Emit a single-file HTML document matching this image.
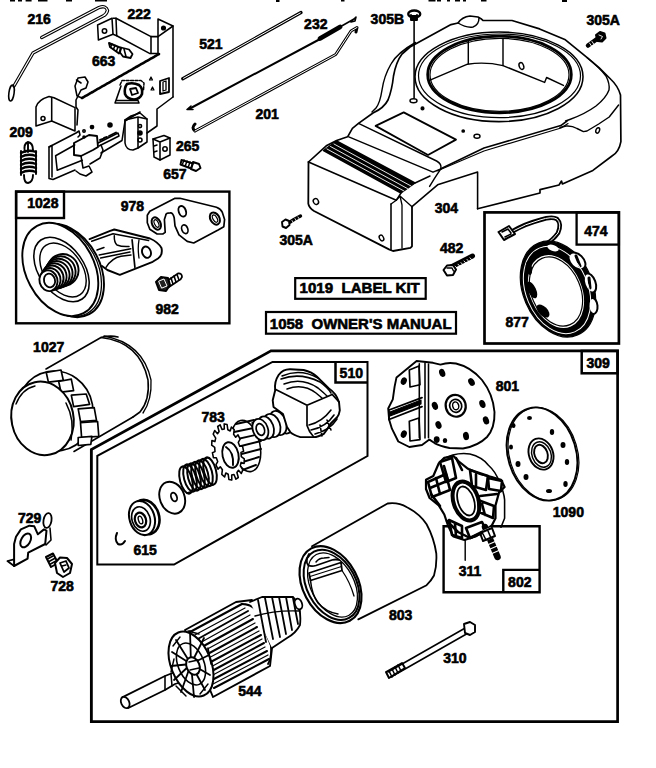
<!DOCTYPE html>
<html><head><meta charset="utf-8">
<style>
html,body{margin:0;padding:0;background:#fff;width:656px;height:768px;overflow:hidden}
svg{display:block}
text{font-family:"Liberation Sans",sans-serif;font-weight:bold;font-size:14px;fill:#000;stroke:#000;stroke-width:0.6px}
</style></head><body>
<svg width="656" height="768" viewBox="0 0 656 768">
<g fill="none" stroke="#000" stroke-width="1.55" stroke-linejoin="round" stroke-linecap="round">
<g id="boxes" stroke-width="2.6" stroke-linecap="butt" stroke-linejoin="miter">
<rect x="16.1" y="191.6" width="213.3" height="131.7" stroke-width="2.4"/>
<rect x="16.1" y="191.6" width="47.9" height="26.4" stroke-width="2.4"/>
<rect x="484.5" y="212.4" width="134.4" height="131.1" stroke-width="2.7"/>
<rect x="576.6" y="212.4" width="42.3" height="32.2" stroke-width="2.3"/>
<rect x="295.2" y="278.1" width="130.5" height="20.7" stroke-width="2.2"/>
<rect x="266" y="312" width="190" height="21.7" stroke-width="2.2"/>
<path d="M271 350.9 H617.6 V721.6 H91.3 V449.5 Z" stroke-width="2.7"/>
<path d="M91.3 449.5 L91.3 721.6" stroke-width="2.2"/>
<rect x="581.7" y="350.9" width="35.9" height="22.4" stroke-width="2.5"/>
<path d="M272.5 361.9 H367.5 V456 L174 564.5 H97.3 V455.8 Z" stroke-width="2"/>
<path d="M335.5 361.9 V382.5 H367.5" stroke-width="2.5"/>
<path d="M443.6 526.2 H539.6 V592.2 H443.6 Z" stroke-width="2.4"/>
<path d="M503.3 592.2 V569.9 H539.6" stroke-width="2.4"/>
</g>
<!-- top edge fragments -->
<g fill="#000" stroke="none">
<rect x="10" y="0" width="5" height="1.5"/><rect x="18" y="0" width="4" height="1.5"/><rect x="25.6" y="0" width="6" height="1.5"/>
<rect x="38" y="0" width="9.5" height="1.5"/><rect x="66" y="0" width="6" height="1.5"/><rect x="95" y="0" width="12" height="1.5"/>
<rect x="276" y="0" width="3.5" height="2"/><rect x="341" y="0" width="3.5" height="1.5"/>
<rect x="428.5" y="0" width="7" height="1.5"/><rect x="437" y="0" width="4" height="1.5"/><rect x="447" y="0" width="3" height="1.5"/>
<rect x="455" y="0" width="5" height="1.5"/><rect x="463" y="0" width="3" height="1.5"/><rect x="481" y="0" width="5.5" height="1.5"/><rect x="562" y="0" width="5" height="2"/>
</g>
<!-- ROD 216 -->
<g id="rod216">
<path d="M41.7,37.5 L99,7.5 Q106,5 107.5,10.5 Q106.5,14.5 103,16 L33,53 L14,86" stroke-width="3.4"/>
<path d="M41.7,37.5 L99,7.5 Q106,5 107.5,10.5 Q106.5,14.5 103,16 L33,53 L14,86" stroke="#fff" stroke-width="1.2"/>
<ellipse cx="11.5" cy="93" rx="2.6" ry="8" transform="rotate(8 11.5 93)" stroke-width="1.56"/>
</g>
<!-- BRACKET 222 -->
<g id="br222">
<path d="M97.6,25 L112,18.3 L113,34.3 L98.4,40 Z"/>
<circle cx="104.5" cy="31" r="2.2"/>
<path d="M113,18.3 L116,18.3 L151,36.6 L158,36.6 L158,53.4 L149.5,53.4 L116.7,35.8 L113,34.3"/>
<path d="M116,18.3 L116.7,35.8 M151,36.6 L151,53.4"/>
<path d="M158,36.6 L158,19 L173,26 L173,97"/>
<path d="M158,36.6 L173,26"/>
<circle cx="163.5" cy="28" r="1.8" fill="#000"/>
</g>
<!-- SCREW 663 -->
<g id="s663">
<path d="M109,43 L121,48 L119,53.5 L110,47 Z" stroke-width="1.92"/>
<path d="M112,44 l-1.5,3.5 M115,45.5 l-1.5,3.6 M118,47 l-1.5,4" />
<path d="M121,47.5 L129,49.5 L132.5,54 L130.5,58 L123,56.5 L120,52.5 Z" stroke-width="1.80"/>
<path d="M124,49 L126,56.5"/>
</g>
<!-- MAIN PLATE -->
<g id="plate">
<path d="M159,54 L82,98" stroke-width="2.6" stroke-dasharray="2 0.8"/>
<path d="M173,97 L157,109 L157,126 L147,133"/>
<path d="M82,98 L77,96 L75,86 L78,78 L85,77 L88,82 L86,88 L81,90 L79,94 M79,94 L76,100 L76,107 L78,110 L77,125"/>
<path d="M76.5,80 L81,83" />
<!-- small L bracket -->
<path d="M36,107 Q38,100 49,96.6 L54,97.8 L75,107.6 L75,131 L51.7,121 L36,126 Z"/>
<path d="M51.7,97.5 L51.7,121"/>
<circle cx="43" cy="118.5" r="2"/>
<!-- lower plate w/ slot -->
<path d="M49,147 L49,178.5 L53,179.5 L75,170 M49,147 L76,133 L79,131 L80,135 L78,137"/>
<path d="M49,147 L52,145.5 L52,177"/>
<path d="M55.6,155.7 L74.7,145 M57.2,170.2 L82.3,160.3 M55.6,155.7 L57.2,170.2"/>
<path d="M74,143 L89,135 L97,136 L98,147 L93,150 L81,156 L74,155 Z" stroke-width="1.92"/>
<path d="M81,156 L83,168 L89,166 L92,172 L86,176 L80,174 L76,171"/>
<path d="M90,164 L100,158 L103,150 L101,145"/>
<path d="M98,143 L118,133 L119,136 L99,146"/>
<path d="M100,140 L103,139 M104,138 L107,137 M109,136 L112,134.5 M113,134 L116,132.5" stroke-width="1.92"/>
<path d="M101,153 L122,140.5 L125,121 L135,115 L140,112"/>
<circle cx="92" cy="127" r="1.6" fill="#000"/>
<circle cx="84" cy="131" r="1.2"/>
<circle cx="110" cy="125" r="2" fill="#000"/>
<circle cx="84" cy="137" r="1" fill="#000"/>
<!-- carb-linkage piece -->
<path d="M120,85 L122,80.5 L141,80.5 L144,83 L143.5,90" stroke-width="1.5" stroke-dasharray="3 1.5"/>
<path d="M127,84 Q133,82 139,85 Q143,88 142,94 Q140,99 134,99.5 Q127,99 125,94 Q124,88 127,84 Z" stroke-width="2.6"/>
<path d="M130,89 L136,88 L138,93 L132,95 Z" stroke-width="1.8"/>
<path d="M121,86 L116,100.5 L138,100.5 L139,103 L115,103 Z" stroke-width="1.5"/>
<path d="M149.5,80 L151,77 L152.5,80 Z M151,90 L152.5,87 L154,90 Z" stroke-width="1.2"/>
<path d="M160,81 L169,78 L169,92 L160,94 Z" stroke-width="1.8"/>
<path d="M163,82 L166,81 L166,90 L163,91 Z" stroke-width="1.3"/>
</g>
<!-- small bracket w/ holes -->
<g id="br-holes">
<path d="M125,120 L125,143 Q126,150 133,150 L138,148 Q144,144 147,142 L147,119 L140,113 L131,116 Z"/>
<path d="M125,120 L138,117 L147,119 M138,117 L138,148"/>
<circle cx="140" cy="126" r="1.6"/>
<circle cx="140" cy="133" r="2" fill="#000"/>
<circle cx="140" cy="140" r="2"/>
</g>
<!-- 265 block -->
<g id="b265">
<path d="M153,139 L164,135.5 L170,138 L170,155 L160,160 L154,157 Z"/>
<path d="M153,139 L160,142 L170,138 M160,142 L160,160"/>
<circle cx="165" cy="149" r="2.2"/>
<path d="M154,146 L157,145 M154,152 L157,151"/>
</g>
<!-- screw 657 -->
<g id="s657">
<path d="M181.5,160 L193,163.5 L191,168.5 L180.5,164.5 Z" stroke-width="1.92"/>
<path d="M184,160 l-1.5,4 M187,161 l-1.5,4.3 M190,162 l-1.5,4.5" stroke-width="1.44"/>
<path d="M193,162 L199,164 L200.5,168 L196,171 L191,169 Z" stroke-width="1.92"/>
</g>
<!-- SPRING 209 -->
<g id="sp209">
<path d="M25,152 Q23,144 28,142 Q33,143 33,150 M28,142 L28,152" stroke-width="1.92"/>
<path d="M21,153 Q28,149 36,152 M21,157 Q28,153 36,156 M21,161 Q28,157 36,160 M21,165 Q28,161 36,164 M21,169 Q28,165 36,168 M21,173 Q28,169 36,172" stroke-width="2.4"/>
<path d="M21,151 L21,175 M36,151 L36,174" stroke-width="1.92"/>
<path d="M24,175 Q24,183 28,183 Q33,182 33,175" stroke-width="1.92"/>
</g>
<!-- RODS -->
<g id="rods">
<path d="M182.75,78.75 L301,12.5" stroke-width="3.2"/>
<path d="M183.5,78.3 L300.3,12.9" stroke="#fff" stroke-width="1"/>
<path d="M189,109 L322,38" stroke-width="2.00"/>
<path d="M187,109.5 L193,109.5 M187,109.5 L191,106" stroke-width="1.56"/>
<path d="M320,38.5 L340,27" stroke-width="4.8"/>
<path d="M339,27.5 L354,19 L356,17 L355,21 L351,22" stroke-width="1.56"/>
<path d="M195,131 Q191,128 195,124 M195,131 L335.7,54.5 L351,31 L357,27.5 L356,32" stroke-width="3"/>
<path d="M195,131 L335.7,54.5 L351,31 L357,27.5" stroke="#fff" stroke-width="1"/>
</g>
<!-- BLOWER HOUSING 304 -->
<g id="housing">
<!-- outer contour -->
<path d="M308.5,162 L326.8,145.4 L336.6,140.5 L347.6,136.8 L352.4,128.3 L358.5,123.4 L373,113 Q384,108 388,100 Q392,90 393.5,76 Q396,62 402,54 L410,47 L451,24.6 L458,23 Q462,17 470,16 L478,17 Q482,19 483,20.5 L512,20.5 L539.6,28.9 L565.4,39.8 L587.2,57.7 L599,67.6 L611,79.5 Q618,86 620.5,95 L620.9,141.6 Q619,152 612,156 L592.9,170.4 L562.4,183.9 L561.5,181 L559,185 L540,189.6 L540,193 L477.6,208.8" stroke-width="1.68"/>
<path d="M458,23 Q466,28 473,27 Q479,25 479,18" stroke-width="1.44"/>
<!-- inner left contour -->
<path d="M415.5,42.5 Q397,53 391,64 Q384,76 382,90 Q380,103 376,108 L372,112" stroke-width="1.44"/>
<!-- shroud rings -->
<ellipse cx="499" cy="76.8" rx="84" ry="44.8" stroke-width="1.56"/>
<ellipse cx="499.5" cy="75.8" rx="81" ry="41.8" stroke-width="1.20"/>
<ellipse cx="499.5" cy="74.5" rx="71.8" ry="38.3" stroke-width="2.8"/>
<ellipse cx="499.5" cy="74.8" rx="69.5" ry="36.5" stroke-width="1.20"/>
<!-- inside opening -->
<path d="M468.3,41.3 L468.3,63.4 M503,38.8 L503,65.6" stroke-width="1.44"/>
<path d="M430,80.2 L467.5,64.2 Q485,61.5 503,65.6 L544.6,82.4 L546.6,77.5 L563.4,85.4" stroke-width="1.44"/>
<ellipse cx="521.4" cy="66" rx="2.2" ry="3.5" transform="rotate(-20 521.4 66)" stroke-width="1.44"/>
<!-- 305B bolt -->
<ellipse cx="414.25" cy="14" rx="6" ry="3.5" stroke-width="2.4"/>
<path d="M411,15 L411,20 L417,20 L417,15" stroke-width="1.92" fill="#000"/>
<path d="M414.1,20 L414.1,98" stroke-width="1.56"/>
<ellipse cx="413.5" cy="100.8" rx="3.5" ry="2" stroke-width="1.44"/>
<circle cx="422.5" cy="108.4" r="1.3" fill="#000"/>
<!-- right inner contour -->
<path d="M587.2,57.7 Q600,68 606,76 Q610,84 609,90 Q606,98 596,106 Q585,114 570.4,119.2 L565.6,121" stroke-width="1.44"/>
<path d="M560,127.5 L566,126 Q572,125.5 577,128.5 L583.4,131.6 L587,131 L598.7,124 L609.2,117 L618.6,105" stroke-width="1.44"/>
<ellipse cx="597.7" cy="130.4" rx="1.8" ry="2.8" transform="rotate(20 597.7 130.4)" stroke-width="1.44"/>
<!-- long double edge -->
<path d="M440.8,168.8 L484,148 L560.8,125.6 L567,121" stroke-width="1.56"/>
<path d="M437,171 L484,151 L561,128 L568,123.5" stroke-width="1.20"/>
<path d="M440.8,168.8 Q434.5,178 429.6,186.4" stroke-width="1.44"/>
<ellipse cx="477" cy="136.2" rx="3" ry="2" stroke-width="1.44"/>
<circle cx="463.2" cy="131" r="1.1" fill="#000"/>
<!-- front part -->
<path d="M308.5,162 L308.3,203.7 Q309,208 314,211 L389,249.4 L393,251 L410.4,247.9 L412,246.3 L412,206.7" stroke-width="1.80"/>
<path d="M308.5,162 L396.3,200.2 M391,204 L391,249.4" stroke-width="1.56"/>
<path d="M391,204 L396.3,200.2 L400,196 L412,206.7 M400,196 L402,205 L402,248" stroke-width="1.32"/>
<path d="M412,206.7 L437.6,184.8 L477.6,172 L477.6,208.8" stroke-width="1.56"/>
<!-- grille band -->
<path d="M323.5,150.5 L336.5,141 L415,183 L401,193 Z" stroke-width="1.44" fill="#000"/>
<path d="M327,149 L404,191 M330.5,146.5 L407.5,188.6 M334,144 L411,186" stroke="#fff" stroke-width="0.9"/>
<path d="M415,183 L430,176 M401,193 L396.3,200.2" stroke-width="1.44"/>
<!-- step lines -->
<path d="M348.8,136.8 L433,172.2 L440.8,168.8" stroke-width="1.44"/>
<path d="M358.5,123.4 L436.6,161 Q442,164 440.8,168.8" stroke-width="1.44"/>
<!-- panel -->
<path d="M375.6,125.9 L403.7,112.4 L456,139.6 L428,155 Z" stroke-width="1.80"/>
<!-- holes -->
<ellipse cx="315.9" cy="201.5" rx="2.5" ry="3" transform="rotate(-30 315.9 201.5)" stroke-width="1.44"/>
<ellipse cx="381.5" cy="238" rx="2" ry="3" transform="rotate(-30 381.5 238)" stroke-width="1.44"/>
</g>
<!-- 305A bolts -->
<g id="b305a">
<path d="M588,45.5 L597,39" stroke-width="4.5"/>
<path d="M589.5,43 L591.5,46 M592,41.5 L594,44.5" stroke="#fff" stroke-width="0.9"/>
<path d="M596,35 L600,32 L604.5,33.5 L605.5,38 L602,41.5 L597.5,41 Z" stroke-width="2" fill="#000"/>
<path d="M599,35 L602.5,36.5 L601,39" stroke="#fff" stroke-width="0.9"/>
<path d="M287,224 L294,219.5 L300.5,216" stroke-width="3.4"/>
<path d="M289,222.5 L290.5,225 M292,220.5 L293.5,223 M295,218.6 L296.5,221 M298,217 L299.5,219.4" stroke="#fff" stroke-width="0.8"/>
<path d="M282,222 L285.5,219.5 L289,221 L289.5,225 L286,228 L282.5,226.5 Z" stroke-width="1.92" fill="#fff"/>
</g>
<!-- 482 bolt -->
<g id="b482">
<path d="M452,266.5 L472.5,256" stroke-width="5"/>
<path d="M455,266 L457,268 M458,264.2 L460,266.4 M461,262.6 L463,264.8 M464,261 L466,263.2 M467,259.4 L469,261.6 M470,257.8 L471.5,259.5" stroke="#fff" stroke-width="0.9"/>
<path d="M443.5,270 L447,265.5 L453,265 L456,269.5 L453,275 L447,275.5 Z" stroke-width="2.00" fill="#fff"/>
<path d="M447,268 L452,268 L453.5,271" stroke-width="1.44"/>
</g>
<!-- BOX 1028 CONTENT -->
<g id="pulley">
<!-- arm -->
<path d="M89.6,239.1 L110.2,230.9 L114.3,229.5 L150,238.5 Q158,242 161.5,248 Q163,255 158,258.5 L152.7,261.8 L119.8,274.8 L107.4,270 L102,265.9" stroke-width="1.9" fill="#fff"/>
<path d="M91.7,241.2 L113,233.7 L148.6,240.5" stroke-width="1.5"/>
<path d="M132.1,239.8 L134.9,267.3" stroke-width="1.7"/>
<path d="M114.3,235.7 Q114,242 117,245 Q122,247 129,246.5" stroke-width="1.5"/>
<path d="M97,250 L104,247.5 M99.2,254.9 L130.8,248.7 M100.6,258 L130,252 M106,267.3 Q112,258 121,256.3 L131,255" stroke-width="1.5"/>
<path d="M139,239.8 Q137.5,248 139,258" stroke-width="1.3"/>
<ellipse cx="146.5" cy="252.2" rx="4.3" ry="5.8" transform="rotate(-20 146.5 252.2)" stroke-width="1.9"/>
<!-- pulley rim back -->
<ellipse cx="66" cy="270.5" rx="49.5" ry="34" transform="rotate(62 66 270.5)" stroke-width="1.9" fill="#fff"/>
<ellipse cx="63.5" cy="270" rx="49.5" ry="34" transform="rotate(62 63.5 270)" stroke-width="1.3" fill="#fff"/>
<!-- pulley face -->
<ellipse cx="60.3" cy="269.5" rx="49.5" ry="34" transform="rotate(62 60.3 269.5)" stroke-width="1.9" fill="#fff"/>
<ellipse cx="61.5" cy="269.5" rx="36" ry="22.5" transform="rotate(55 61.5 269.5)" stroke-width="1.56"/>
<ellipse cx="63" cy="270" rx="30" ry="19" transform="rotate(55 63 270)" stroke-width="1.44"/>
<!-- hub threads -->
<g stroke-width="1.9" fill="#fff">
<ellipse cx="63.0" cy="270.0" rx="15.5" ry="16.0" transform="rotate(-15 63.0 270.0)"/>
<ellipse cx="60.9" cy="271.5" rx="14.6" ry="15.2" transform="rotate(-15 60.9 271.5)"/>
<ellipse cx="58.9" cy="273.1" rx="13.6" ry="14.4" transform="rotate(-15 58.9 273.1)"/>
<ellipse cx="56.8" cy="274.6" rx="12.7" ry="13.6" transform="rotate(-15 56.8 274.6)"/>
<ellipse cx="54.7" cy="276.1" rx="11.8" ry="12.9" transform="rotate(-15 54.7 276.1)"/>
<ellipse cx="52.6" cy="277.6" rx="10.9" ry="12.1" transform="rotate(-15 52.6 277.6)"/>
<ellipse cx="50.6" cy="279.2" rx="9.9" ry="11.3" transform="rotate(-15 50.6 279.2)"/>
<ellipse cx="48.5" cy="280.7" rx="9.0" ry="10.5" transform="rotate(-15 48.5 280.7)"/>
</g>
<ellipse cx="49.5" cy="280.5" rx="5.5" ry="6.9" transform="rotate(-15 49.5 280.5)" stroke-width="1.8"/>
</g>
<g id="plate978">
<path d="M147.3,215.3 L149.8,211.3 L175,198.3 L179.9,198.3 L216.5,207.2 Q221,209 222.2,212.1 L224.6,219.4 L223.8,226.7 L218.1,230 L193.7,243 L187.2,241.4 L179,234.9 L175,225.9 L174.2,217.8 Q173,212.5 170.1,212.9 Q166,213 166,214.5 L164.4,219.4 L165.2,232.4 L162.8,234 L157.1,234 L149.8,229.2 L147.3,222.7 Z" stroke-width="1.68"/>
<ellipse cx="156.3" cy="223.5" rx="4.2" ry="6.5" transform="rotate(-25 156.3 223.5)" stroke-width="2"/>
<ellipse cx="156.5" cy="223.5" rx="2" ry="4" transform="rotate(-25 156.5 223.5)" stroke-width="1.20"/>
<ellipse cx="182.3" cy="211.3" rx="3.6" ry="5.5" transform="rotate(-20 182.3 211.3)" stroke-width="1.92"/>
<ellipse cx="184.8" cy="229.2" rx="3" ry="4.5" transform="rotate(-20 184.8 229.2)" stroke-width="1.68"/>
<ellipse cx="214.9" cy="218.6" rx="4.5" ry="6.5" transform="rotate(-30 214.9 218.6)" stroke-width="2"/>
<ellipse cx="215" cy="218.6" rx="2" ry="4" transform="rotate(-30 215 218.6)" stroke-width="1.20"/>
</g>
<g id="bolt982">
<path d="M167,281 L178,273.5 Q182,273 182,277 Q181,280 178,281 L169,287" stroke-width="1.80" fill="#fff"/>
<path d="M171,278 L173,284 M174,276 L176,282 M177,274.5 L179,280" stroke-width="1.56"/>
<path d="M156,282 L161,277 L168,278 L170,285 L166,291 L159,290 Z" stroke-width="2" fill="#222"/>
<path d="M159,281 L164,279 L167,286 L162,288 Z" stroke="#fff" stroke-width="1"/>

</g>
<!-- STATOR 877 -->
<g id="stator">
<path d="M513,231 Q525,224 540,220 Q552,216 557,219 Q562,224 558,233 Q553,240 546,244" stroke-width="4.5"/>
<path d="M513,231 Q525,224 540,220 Q552,216 557,219 Q562,224 558,233 Q553,240 546,244" stroke="#fff" stroke-width="1"/>
<path d="M498.5,232 L509,226 L515,234 L504,240 Z" stroke-width="2.00" fill="#fff"/>
<path d="M502,232 L508,229 L511,233 M505,237 L511,234" stroke-width="1.56"/>
<ellipse cx="558" cy="289" rx="50" ry="35" transform="rotate(67 558 289)" fill="#000" stroke-width="1.20"/>
<g fill="#fff" stroke-width="2">
<ellipse cx="577" cy="261" rx="6.5" ry="10" transform="rotate(-45 577 261)"/>
<ellipse cx="590" cy="283" rx="5.5" ry="10" transform="rotate(-20 590 283)"/>
<ellipse cx="593" cy="306" rx="4.5" ry="8" transform="rotate(-5 593 306)"/>
<ellipse cx="553" cy="248" rx="7" ry="4" transform="rotate(20 553 248)"/>
</g>
<path d="M576,256 L580,266 M589,278 L590,288" stroke-width="3"/>
<ellipse cx="557" cy="290" rx="45.5" ry="31" transform="rotate(67 557 290)" stroke="#fff" stroke-width="1"/>
<ellipse cx="556" cy="291.5" rx="39" ry="26.8" transform="rotate(67 556 291.5)" fill="#fff" stroke-width="1.92"/>
<g fill="#000" stroke="none">
<ellipse cx="532" cy="290" rx="4" ry="9" transform="rotate(-25 532 290)"/>
<ellipse cx="543" cy="311" rx="4.5" ry="8" transform="rotate(-45 543 311)"/>
<ellipse cx="529" cy="268" rx="3" ry="7" transform="rotate(-10 529 268)"/>
</g>
<ellipse cx="556" cy="291.5" rx="36" ry="24.5" transform="rotate(67 556 291.5)" stroke-width="1.20"/>
</g>
<!-- OIL FILTER 1027 -->
<g id="filter">
<path d="M46,369 L101,337.5 Q110,335 118,337" stroke-width="1.56"/>
<path d="M101,337.5 Q140,342 148,380 Q150,400 140,412 L133,417" stroke-width="1.56"/>
<path d="M104,336 Q143,343 151,380 Q152,400 143,413" stroke-width="1.32"/>
<path d="M74,451.5 L133,417" stroke-width="1.56"/>
<!-- grip ring -->
<ellipse cx="55" cy="411" rx="38" ry="40" transform="rotate(-10 55 411)" stroke-width="1.68" fill="#fff"/>
<g stroke-width="1.68" fill="#fff">
<path d="M46.2,372.3 L61,370 L63.3,380.3 L48.4,382.1 Z"/>
<path d="M58.7,381.5 L71.3,379.2 L73.6,390.6 L61,392.2 Z"/>
<path d="M71.3,395.2 L86.2,394 L89.6,404.3 L73.6,406.6 Z"/>
<path d="M78.2,408.9 L94.2,407.7 L96.5,420.3 L80.5,421.5 Z"/>
<path d="M80.5,422.6 L97.6,421.5 L98.8,436.3 L81.6,437.5 Z"/>
<path d="M78.2,437.5 L91.9,436.3 L90.8,444.3 L78.2,445.5 Z"/>
</g>
<!-- front cap -->
<ellipse cx="42.5" cy="418.4" rx="31" ry="37" transform="rotate(-12 42.5 418.4)" stroke-width="2.00" fill="#fff"/>
<path d="M16,404 Q22,389 35,386" stroke-width="1.44"/>
<path d="M66,403 Q75,420 71,440" stroke-width="1.56"/>
</g>
<!-- BRACKET 729 -->
<g id="br729">
<path d="M16,536.7 L20.9,529.4 L29.4,525.7 L34.3,526.3 L37.9,534.3 L44,529.4 L46.5,530.6 L45.2,544 L28.2,552.6 L27.6,558.7 L14.1,566 L14.1,544 Z" stroke-width="2.00"/>
<path d="M14.1,559.3 L7.4,561 L14.1,566" stroke-width="1.80"/>
<ellipse cx="25.7" cy="540.4" rx="4.5" ry="7.5" transform="rotate(30 25.7 540.4)" stroke-width="2.00"/>
<ellipse cx="47.5" cy="520.5" rx="4" ry="7.5" transform="rotate(10 47.5 520.5)" stroke-width="1.80"/>
<path d="M50,528 L51,540 L46,545" stroke-width="1.56"/>
</g>
<!-- BOLT 728 -->
<g id="bolt728">
<path d="M46,557 L53,553.5 L58,563 L51,567 Z" stroke-width="2.00" fill="#fff"/>
<path d="M47.5,559 L53,556 M49,561.5 L54.5,558.5 M50.5,564 L56,561" stroke-width="1.56"/>
<path d="M55,563 L60,557.5 L67,558 L72,564 L70,573 L63,577 L57,573 Z" stroke-width="2" fill="#fff"/>
<path d="M60,563 L66,561 L69,568 L64,572 Z" stroke-width="1.80"/>
<path d="M62,566 L66,565" stroke-width="1.44"/>
</g>
<!-- STARTER DRIVE PARTS (box 510) -->
<g id="drive">
<!-- c-clip -->
<path d="M117,533 Q114,540 118,544 Q122,546 125,541" stroke-width="2"/>
<!-- collar 615 -->
<ellipse cx="146" cy="517" rx="13" ry="17.5" transform="rotate(-18 146 517)" stroke-width="2.6" fill="#fff"/>
<ellipse cx="142" cy="518" rx="12.5" ry="17.5" transform="rotate(-18 142 518)" stroke-width="2.00" fill="#fff"/>
<ellipse cx="141" cy="519" rx="9" ry="12.5" transform="rotate(-18 141 519)" stroke-width="1.68"/>
<ellipse cx="140.5" cy="520" rx="5.5" ry="7.5" transform="rotate(-18 140.5 520)" stroke-width="2.2"/>
<ellipse cx="140.5" cy="520" rx="2" ry="4" transform="rotate(-18 140.5 520)" stroke-width="1.44"/>
<!-- washer -->
<ellipse cx="172.2" cy="497.7" rx="12.3" ry="16.5" transform="rotate(-22 172.2 497.7)" stroke-width="1.92" fill="#fff"/>
<ellipse cx="174" cy="497" rx="2.8" ry="4.5" transform="rotate(-22 174 497)" stroke-width="1.80"/>
<!-- spring -->
<g stroke-width="2.00">
<ellipse cx="186" cy="480" rx="6" ry="14" transform="rotate(-15 186 480)"/>
<ellipse cx="190" cy="478" rx="6" ry="14" transform="rotate(-15 190 478)"/>
<ellipse cx="194" cy="477" rx="6" ry="14" transform="rotate(-15 194 477)"/>
<ellipse cx="198" cy="475.5" rx="6" ry="14" transform="rotate(-15 198 475.5)"/>
<ellipse cx="202" cy="474" rx="6" ry="14" transform="rotate(-15 202 474)"/>
<ellipse cx="206" cy="472.5" rx="6" ry="14" transform="rotate(-15 206 472.5)"/>
<ellipse cx="210" cy="471" rx="6" ry="14" transform="rotate(-15 210 471)"/>
</g>
<path d="M183,467 L207,458 M187,493 L213,485" stroke-width="1.56"/>
<!-- gear 783 back -->
<ellipse cx="246" cy="446" rx="14" ry="26" transform="rotate(-12 246 446)" stroke-width="1.56" fill="#fff"/>
<path d="M236,424 L254,420 M234,432 L258,427 M233,440 L260,434 M233,448 L261,441 M234,456 L261,449 M236,464 L259,457 M240,471 L256,465" stroke-width="1.92"/>
<!-- gear front -->
<path id="gear" d="M242.6,446.3 L243.6,451.3 L241.0,452.4 L241.3,456.6 L244.3,458.8 L244.1,463.5 L241.1,462.4 L240.3,465.9 L242.8,469.9 L241.3,473.5 L238.5,470.3 L236.9,472.5 L238.3,477.5 L235.9,479.2 L234.0,474.5 L231.7,475.0 L231.8,480.1 L228.9,479.5 L228.2,474.3 L225.8,473.0 L224.6,477.0 L221.8,474.4 L222.4,469.7 L220.3,466.8 L218.0,469.1 L215.9,464.8 L217.7,461.6 L216.3,457.7 L213.4,457.7 L212.4,452.7 L215.0,451.6 L214.7,447.4 L211.7,445.2 L211.9,440.5 L214.9,441.6 L215.7,438.1 L213.2,434.1 L214.7,430.5 L217.5,433.7 L219.1,431.5 L217.7,426.5 L220.1,424.8 L222.0,429.5 L224.3,429.0 L224.2,423.9 L227.1,424.5 L227.8,429.7 L230.2,431.0 L231.4,427.0 L234.2,429.6 L233.6,434.3 L235.7,437.2 L238.0,434.9 L240.1,439.2 L238.3,442.4 L239.7,446.3 Z" stroke-width="1.56" fill="#fff"/>
<ellipse cx="230.5" cy="455" rx="8" ry="13" transform="rotate(-12 230.5 455)" stroke-width="1.92"/>
<path d="M226,447 Q234,452 233,465" stroke-width="1.92"/>
<!-- helix shaft -->
<path d="M252,423 L285,410 M260,440 L292,428" stroke-width="1.56"/>
<g stroke-width="1.80" fill="#fff">
<ellipse cx="290" cy="418" rx="8" ry="14" transform="rotate(-20 290 418)"/>
<ellipse cx="284" cy="421" rx="8" ry="13" transform="rotate(-20 284 421)"/>
<ellipse cx="278" cy="423" rx="8" ry="12.5" transform="rotate(-20 278 423)"/>
<ellipse cx="272" cy="425.5" rx="8" ry="12" transform="rotate(-20 272 425.5)"/>
<ellipse cx="266" cy="427.5" rx="7.5" ry="11.5" transform="rotate(-20 266 427.5)"/>
<ellipse cx="260.4" cy="429.5" rx="7.5" ry="11" transform="rotate(-20 260.4 429.5)"/>
</g>
<ellipse cx="260.4" cy="429.5" rx="4" ry="6" transform="rotate(-20 260.4 429.5)" stroke-width="1.68"/>
<!-- clutch housing -->
<path d="M278.6,375 Q283,369 290.3,369.2 L303.7,370 Q312,372 317,376.8 L328.9,388.5 Q336,393 339,402 L339.8,410.3 Q339,415 337.3,417 L330.5,423.7 Q327,430 323.8,433.8 Q318,437 313.8,437.1 L300.4,437.1 Q293,435 290.3,432.1 L287,427 L283,414 L273.5,407 L272.7,400.2 L275.2,390.2 Q274,382 278.6,375 Z" stroke-width="1.92" fill="#fff"/>
<path d="M275.2,389.3 L307,405.3 L332.2,394.4 M307,405.3 L307,425.4 Q309,432 313.8,437 M332.2,394.4 L339,402" stroke-width="1.68"/>
<path d="M281,379 Q300,372 320,382 Q328,388 331,393 M284,384 Q302,377 318,388 Q324,393 327,396 M287,389 Q303,383 316,393 L322,398 M282,376 Q300,368 318,378" stroke-width="1.56"/>

<path d="M311,430 Q326,427 334,415 M315,434 Q330,430 337,419 M309,425 Q322,422 331,410 M320,425 L322,436 M327,420 L331,430" stroke-width="1.56"/>
</g>
<!-- 801 END PLATE -->
<g id="p801">
<path d="M396.5,377.4 L416.6,361 L433,362.8 L440.4,364.6 Q448,362 456,363.5 Q471,367 482,380 Q493,394 494.5,412 Q495,428 487,437 Q478,446 463,448.5 L449.5,448 Q440,446 434.9,443.3 L429.4,439.6 L422,445 L409.3,447 L398.3,441.5 L391.9,428.7 L389.1,419.5 L388.2,408.5 L392.8,399.4 L394.6,386.6 Z" stroke-width="1.90" fill="#fff"/>
<path d="M419.3,363.7 L419.3,437.8 M425,363 L425,438 M428.5,364 L428.5,437.8" stroke-width="1.56"/>
<path d="M389,410 L422,397.6 M389,419.5 L422,406.7 M389,410 L389,419.5" stroke-width="1.80"/>
<path d="M390,412 L421,400 L421,404 L390,416 Z" fill="#000" stroke-width="1.20"/>
<path d="M409.3,370 L419,366 L420,384.8 L410,387 Z M409.3,421.3 L419,418 L420,439.6 L410,441 Z" stroke-width="1.68"/>
<g stroke-width="1.92" fill="#000">
<ellipse cx="403.8" cy="381.1" rx="2" ry="3" transform="rotate(20 403.8 381.1)"/>
<ellipse cx="403.8" cy="434.1" rx="2" ry="3" transform="rotate(20 403.8 434.1)"/>
<ellipse cx="442.2" cy="372.9" rx="2" ry="3.2" transform="rotate(-20 442.2 372.9)"/>
<ellipse cx="471.5" cy="382" rx="2" ry="3.2" transform="rotate(-30 471.5 382)"/>
<ellipse cx="482.4" cy="404" rx="2" ry="3.2" transform="rotate(-20 482.4 404)"/>
<ellipse cx="486" cy="420.4" rx="2" ry="3.2" transform="rotate(-20 486 420.4)"/>
<ellipse cx="466" cy="436" rx="2" ry="3.2" transform="rotate(-10 466 436)"/>
<ellipse cx="434.9" cy="405.8" rx="2" ry="3.2" transform="rotate(-20 434.9 405.8)"/>
<ellipse cx="438.5" cy="425" rx="2" ry="3" transform="rotate(-20 438.5 425)"/>
<ellipse cx="436.7" cy="439.6" rx="2" ry="2.5"/>
<ellipse cx="445" cy="440.5" rx="1.3" ry="1.6"/>
</g>
<ellipse cx="455.7" cy="405.8" rx="10" ry="11" transform="rotate(-15 455.7 405.8)" stroke-width="2.2"/>
<ellipse cx="455.7" cy="405.8" rx="6" ry="6.5" transform="rotate(-15 455.7 405.8)" stroke-width="1.68"/>
<ellipse cx="455.7" cy="405.8" rx="3" ry="4" transform="rotate(-15 455.7 405.8)" stroke-width="1.44"/>
</g>
<!-- 1090 DISC -->
<g id="d1090">
<ellipse cx="542" cy="454" rx="34" ry="47.5" transform="rotate(-17 542 454)" stroke-width="1.92"/>
<ellipse cx="543.5" cy="454" rx="34" ry="47.5" transform="rotate(-17 543.5 454)" stroke-width="1.20"/>
<ellipse cx="541" cy="454" rx="12" ry="16" transform="rotate(-20 541 454)" stroke-width="1.92"/>
<ellipse cx="541.5" cy="454.5" rx="9.5" ry="13" transform="rotate(-20 541.5 454.5)" stroke-width="1.44"/>
<ellipse cx="541" cy="454" rx="6.5" ry="9.5" transform="rotate(-20 541 454)" stroke-width="1.92"/>
<g fill="#000" stroke="none">
<ellipse cx="529.5" cy="418" rx="2.5" ry="2"/>
<ellipse cx="513.5" cy="425.5" rx="2" ry="2.5"/>
<ellipse cx="552" cy="432" rx="2.2" ry="3"/>
<ellipse cx="563" cy="445" rx="2.5" ry="3"/>
<ellipse cx="567" cy="462" rx="2.2" ry="3"/>
<ellipse cx="565.5" cy="484" rx="2.2" ry="3"/>
<ellipse cx="549" cy="491" rx="3" ry="2"/>
<ellipse cx="526" cy="477" rx="2.5" ry="3"/>
<ellipse cx="518" cy="464" rx="2.5" ry="3"/>
<ellipse cx="511" cy="447" rx="2" ry="2.5"/>
</g>
</g>
<!-- 311 BRUSH HOLDER -->
<g id="bh311">
<path d="M442.4,459.6 Q455,452 469.9,454 Q482,457 488.2,465 Q496,472 499.1,481.6 Q504,492 504.6,499.9 L504.6,518.2 L501,527.3" stroke-width="1.56"/>
<path d="M426,479.8 L433.3,476 L438.8,463.3 L444.3,457.8 L453.4,456 L458.9,461.5 L468,468.8 L480.8,474.3 L491.8,477 L501,479.8 L504.6,487 L499,492.6 L495.5,505.4 L495.5,518.2 L491.8,525.5 L484.5,531 L475.4,536.5 L464.4,540 L453.4,536.5 L448,525.5 L444.3,514.5 L438.8,505.4 L429.6,498 L426,489 Z" stroke-width="2.2" fill="#fff"/>
<ellipse cx="466" cy="501" rx="12.5" ry="20" transform="rotate(-18 466 501)" stroke-width="4"/>
<ellipse cx="466" cy="501" rx="8" ry="15" transform="rotate(-18 466 501)" stroke-width="1.80"/>
<g stroke-width="2.6">
<path d="M428,482 L446,474 L450,490 L432,497 Z"/>
<path d="M430,488 L447,481 M436,478 L440,494"/>
<path d="M440,462 L452,458 L456,478 L446,482 Z M444,466 L448,480"/>
<path d="M470,470 L488,476 L486,490 L472,486 Z M476,474 L476,486"/>
<path d="M488,478 L502,481 L501,491 L489,489 Z"/>
<path d="M478,500 L494,506 L493,518 L479,512 Z M482,504 L485,515"/>
<path d="M449,520 L462,526 L462,538 L452,535 Z M455,524 L456,536"/>
<path d="M466,528 L482,522 L486,530 L470,538 Z"/>
<path d="M431,494 L440,506 M456,458 L462,470 M497,494 L480,496"/>
</g>
<path d="M485,527 L497.5,557" stroke-width="6.5"/>
<path d="M483,531 L491,527.5 M484.8,535.5 L492.8,532 M486.6,540 L494.6,536.5 M488.4,544.5 L496.4,541 M490.2,549 L498.2,545.5 M492,553.5 L500,550" stroke="#fff" stroke-width="1.1"/>
<path d="M480,533 L492,528 L495,536 L483,541 Z" stroke-width="2" fill="#fff"/>
<path d="M483,534 L486,540 M488,531 L491,538" stroke-width="1.56"/>
<path d="M447,521 L458,532 L470,538 L482,533" stroke-width="2.5"/>
<path d="M465.2,540 L465.2,560.3" stroke-width="1.44"/>
</g>
<!-- 803 MOTOR HOUSING -->
<g id="h803">
<path d="M312,546.2 L387.6,503.5 Q398,502 407,507.2 Q420,514 426.6,524.3 Q434,538 436.3,553.5 Q437,566 434,575.5 Q431,581 426.6,585.2 L358.3,619.4" stroke-width="1.8" fill="#fff"/>
<ellipse cx="330.5" cy="584.6" rx="41" ry="27.5" transform="rotate(62 330.5 584.6)" stroke-width="2.2" fill="#fff"/>
<ellipse cx="331.5" cy="584.8" rx="37.5" ry="24.5" transform="rotate(62 331.5 584.8)" stroke-width="2"/>
<ellipse cx="332.5" cy="585" rx="34.5" ry="21.5" transform="rotate(62 332.5 585)" stroke-width="1.3"/>
<path d="M309,554 Q305,561 308,565 Q311,567 316,565.5 L332,560 Q336,559 339,560" stroke-width="1.8"/>
<path d="M316,562 Q319,558 324,558 L329,557.5" stroke-width="1.5"/>
<path d="M309,573 L341,562.5 L342,570.5 L310.5,580.5 Z" stroke-width="1.8" fill="#fff"/>
<path d="M310,576.5 L341.5,566.5" stroke-width="1.2"/>
<path d="M310.5,580.5 Q312,595 318,603 Q326,612 338,614" stroke-width="1.5"/>
<path d="M342,570.5 Q350,582 354,596" stroke-width="1.3"/>
</g>
<!-- 544 ARMATURE -->
<g id="a544">
<!-- shaft -->
<path d="M122.2,697.4 L165,676 L175,672 L192,665 M128.3,708 L165,690 L175,684 L195,678" stroke-width="1.80"/>
<path d="M165,676 L165,690 M171,674 L172,686" stroke-width="1.56"/>
<ellipse cx="125.2" cy="702.5" rx="4" ry="6" transform="rotate(-25 125.2 702.5)" stroke-width="1.80" fill="#fff"/>
<!-- core body -->
<path d="M185,630 L236,602 L252,600 L272,648 L270,666 L213,697 Z" stroke-width="1.92" fill="#fff"/>
<g stroke-width="2.00">
<path d="M190,632 L242,604"/><path d="M196,640 L248,611"/><path d="M200,648 L253,619"/>
<path d="M204,656 L257,627"/><path d="M207,664 L261,635"/><path d="M210,672 L264,643"/>
<path d="M212,680 L267,651"/><path d="M214,688 L269,659"/>
</g>
<g stroke-width="1.20">
<path d="M193,636 L245,608"/><path d="M198,644 L250,615"/><path d="M202,652 L255,623"/>
<path d="M205,660 L259,631"/><path d="M209,668 L262,639"/><path d="M211,676 L265,647"/><path d="M213,684 L268,655"/>
</g>
<path d="M242,604 Q262,604 270,640 Q273,655 268,664" stroke-width="1.80"/>
<!-- front windings face -->
<ellipse cx="191" cy="664" rx="20" ry="34" transform="rotate(-22 191 664)" stroke-width="2" fill="#fff"/>
<g stroke-width="1.80">
<path d="M191,664 L176,640 M191,664 L172,652 M191,664 L171,666 M191,664 L174,680 M191,664 L181,692 M191,664 L194,697 M191,664 L205,690 M191,664 L210,675 M191,664 L209,655 M191,664 L204,638 M191,664 L190,631"/>
</g>
<g stroke-width="1.44">
<path d="M180,637 L173,646 M174,659 L171,672 M176,686 L186,696 M200,694 L208,684 M211,664 L208,648 M199,634 L188,631"/>
</g>
<ellipse cx="191" cy="664" rx="13" ry="22" transform="rotate(-22 191 664)" stroke-width="1.56"/>
<ellipse cx="193" cy="666" rx="6.5" ry="9" transform="rotate(-22 193 666)" stroke-width="2.00" fill="#fff"/>
<path d="M189,662 L198,660 M190,670 L199,668" stroke-width="1.44"/>
<!-- commutator -->
<path d="M250,602 L262,597 L293,597 Q302,606 300,625 Q296,633 287,638 L272,648" stroke-width="1.80" fill="#fff"/>
<path d="M258,600 L266,642 M265,598 L273,639 M272,597 L280,637 M279,597 L286,634 M286,597 L292,630 M293,598 L298,624" stroke-width="1.80"/>
<path d="M255,616 Q275,610 300,611" stroke-width="1.44"/>
<ellipse cx="298.5" cy="604" rx="3.5" ry="5.5" transform="rotate(-20 298.5 604)" stroke-width="1.80" fill="#fff"/>
</g>
<!-- 310 BOLT -->
<g id="b310">
<path d="M388,672 L467,627 M391,677 L470,632" stroke-width="1.56"/>
<path d="M386,672 L402,663 L405,668 L389,678 Z" stroke-width="2"/>
<path d="M389,671 L392,677 M392,669 L395,675 M395,667 L398,673 M398,665 L401,671" stroke-width="1.56"/>
<path d="M464,624 L470,622 L475,625 L475,632 L470,635 L465,633 Z" stroke-width="1.92" fill="#fff"/>
</g>
</g>
<g>
<text x="27.5" y="24.0" xml:space="preserve" style="white-space:pre" >216</text>
<text x="127.5" y="19.2" xml:space="preserve" style="white-space:pre" >222</text>
<text x="92.0" y="65.8" xml:space="preserve" style="white-space:pre" >663</text>
<text x="9.5" y="136.5" xml:space="preserve" style="white-space:pre" >209</text>
<text x="199.2" y="48.5" xml:space="preserve" style="white-space:pre" >521</text>
<text x="304.1" y="28.5" xml:space="preserve" style="white-space:pre" >232</text>
<text x="255.5" y="119.0" xml:space="preserve" style="white-space:pre" >201</text>
<text x="176.0" y="151.0" xml:space="preserve" style="white-space:pre" >265</text>
<text x="163.2" y="178.5" xml:space="preserve" style="white-space:pre" >657</text>
<text x="370.6" y="23.8" xml:space="preserve" style="white-space:pre" >305B</text>
<text x="586.4" y="24.8" xml:space="preserve" style="white-space:pre" >305A</text>
<text x="27.3" y="208.2" xml:space="preserve" style="white-space:pre" >1028</text>
<text x="120.8" y="211.0" xml:space="preserve" style="white-space:pre" >978</text>
<text x="155.5" y="313.9" xml:space="preserve" style="white-space:pre" >982</text>
<text x="434.7" y="212.8" xml:space="preserve" style="white-space:pre" >304</text>
<text x="279.4" y="245.4" xml:space="preserve" style="white-space:pre" >305A</text>
<text x="440.0" y="253.0" xml:space="preserve" style="white-space:pre" >482</text>
<text x="299.6" y="292.8" xml:space="preserve" style="white-space:pre" textLength="120.2" lengthAdjust="spacingAndGlyphs">1019  LABEL KIT</text>
<text x="269.8" y="328.6" xml:space="preserve" style="white-space:pre;font-size:14.8px" textLength="181.8" lengthAdjust="spacingAndGlyphs">1058  OWNER&#39;S MANUAL</text>
<text x="584.2" y="236.1" xml:space="preserve" style="white-space:pre" >474</text>
<text x="505.5" y="326.9" xml:space="preserve" style="white-space:pre" >877</text>
<text x="33.1" y="352.1" xml:space="preserve" style="white-space:pre" >1027</text>
<text x="17.9" y="522.5" xml:space="preserve" style="white-space:pre" >729</text>
<text x="50.5" y="590.8" xml:space="preserve" style="white-space:pre" >728</text>
<text x="133.4" y="555.0" xml:space="preserve" style="white-space:pre" >615</text>
<text x="201.4" y="421.5" xml:space="preserve" style="white-space:pre" >783</text>
<text x="339.6" y="377.8" xml:space="preserve" style="white-space:pre" >510</text>
<text x="586.5" y="367.5" xml:space="preserve" style="white-space:pre" >309</text>
<text x="495.7" y="391.2" xml:space="preserve" style="white-space:pre" >801</text>
<text x="552.8" y="516.8" xml:space="preserve" style="white-space:pre" >1090</text>
<text x="458.7" y="575.9" xml:space="preserve" style="white-space:pre" >311</text>
<text x="508.1" y="586.9" xml:space="preserve" style="white-space:pre" >802</text>
<text x="388.9" y="620.1" xml:space="preserve" style="white-space:pre" >803</text>
<text x="443.2" y="662.8" xml:space="preserve" style="white-space:pre" >310</text>
<text x="238.2" y="696.0" xml:space="preserve" style="white-space:pre" >544</text>
</g>

</svg>
</body></html>
